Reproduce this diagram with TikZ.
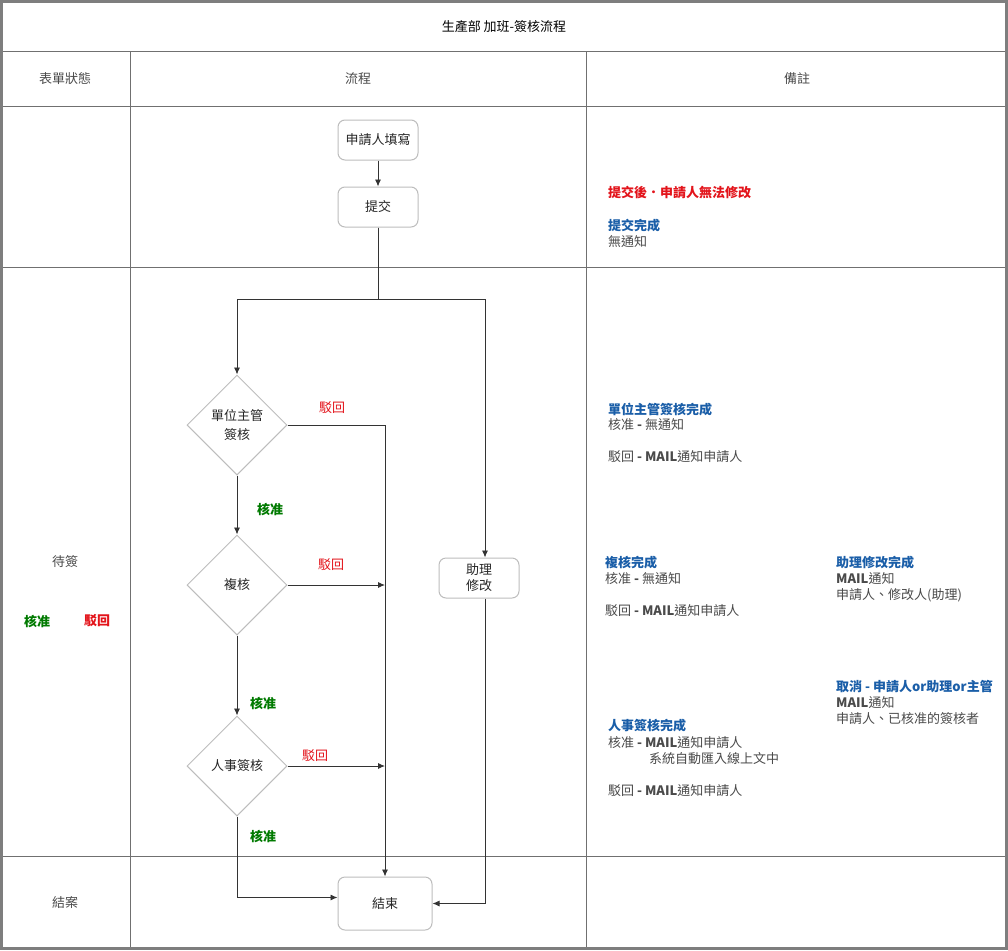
\documentclass[tikz,border=0pt]{standalone}
\usepackage{fontspec}
\setmainfont{Noto Sans CJK TC}
\usetikzlibrary{arrows.meta,shapes.geometric}
\definecolor{rejred}{HTML}{E3141B}
\definecolor{okgreen}{HTML}{007A00}
\definecolor{noteblue}{HTML}{1A5EA8}
\definecolor{txtgrey}{HTML}{4A4A4A}
\definecolor{tblgrey}{HTML}{707070}
\definecolor{shapegrey}{HTML}{BDBDBD}
\definecolor{conngrey}{HTML}{333333}
\tikzset{
  cell/.style={font=\fontsize{13}{16}\selectfont, text=txtgrey},
  ttl/.style={font=\fontsize{13}{16}\selectfont, text=black},
  procbox/.style={draw=shapegrey, line width=1pt, rounded corners=7pt, minimum width=80pt, minimum height=40pt, inner sep=2pt, align=center, font=\fontsize{13}{16}\selectfont, text=black!85},
  decide/.style={draw=shapegrey, line width=1pt, diamond, minimum width=100pt, minimum height=100pt, inner sep=0pt, align=center, font=\fontsize{13}{19}\selectfont, text=black!85},
  flow/.style={draw=conngrey, line width=0.9pt},
  conn/.style={flow, -{Latex[length=7pt,width=6pt]}},
  rejlbl/.style={font=\fontsize{13}{16}\selectfont, text=rejred},
  oklbl/.style={font=\bfseries\fontsize{13}{16}\selectfont, text=okgreen},
  note/.style={anchor=west, inner sep=0pt, font=\fontsize{13}{16}\selectfont, text=txtgrey},
  notehead/.style={anchor=west, inner sep=0pt, font=\bfseries\fontsize{13}{16}\selectfont, text=noteblue},
  notered/.style={anchor=west, inner sep=0pt, font=\bfseries\fontsize{13}{16}\selectfont, text=rejred},
  grid/.style={draw=tblgrey, line width=1pt}
}
\begin{document}
\begin{tikzpicture}[x=1pt,y=-1pt]
\useasboundingbox (0,0) rectangle (1008,950);
\fill[white] (0,0) rectangle (1008,950);
% table
\draw[grid] (0,52) -- (1008,52);
\draw[grid] (0,106) -- (1008,106);
\draw[grid] (0,267) -- (1008,267);
\draw[grid] (0,856) -- (1008,856);
\draw[grid] (130,52) -- (130,950);
\draw[grid] (586,52) -- (586,950);
\draw[draw=tblgrey!90, line width=3pt] (1.5,1.5) rectangle (1006.5,948.5);
% headers
\node[ttl] (title) at (504,27) {生產部 加班-簽核流程};
\node[cell] (hstate) at (65,79) {表單狀態};
\node[cell] (hflow) at (358,79) {流程};
\node[cell] (hnote) at (797,79) {備註};
\node[cell] (wait) at (65,562) {待簽};
\node[oklbl] (lok) at (37,621) {核准};
\node[rejlbl, font=\bfseries\fontsize{13}{16}\selectfont] (lrej) at (97,621) {駁回};
\node[cell] (closed) at (65,903) {結案};
% flow nodes
\node[procbox] (fill) at (378,140) {申請人填寫};
\node[procbox] (submit) at (378,207) {提交};
\node[decide] (d1) at (237,425) {單位主管\\簽核};
\node[decide] (d2) at (237,585) {複核};
\node[decide] (d3) at (237,766) {人事簽核};
\node[procbox] (assist) at (479,578) {助理\\修改};
\node[procbox, minimum width=94pt, minimum height=53pt] (end) at (385,903.5) {結束};
\coordinate (jl) at (237,299);
\coordinate (jr) at (485,299);
% connectors
\draw[conn] (fill) -- (submit);
\draw[conn] (submit.south) |- (jl) -- (d1.north);
\draw[conn] (submit.south) |- (jr) -- (jr |- assist.north);
\draw[conn] (d1.east) -| (end.north);
\draw[conn] (d1.south) -- (d2.north);
\draw[conn] (d2.east) -- (d2.east -| end.north);
\draw[conn] (d2.south) -- (d3.north);
\draw[conn] (d3.east) -- (d3.east -| end.north);
\draw[conn] (d3.south) |- ([yshift=6pt]end.west);
\draw[conn] (jr |- assist.south) |- (end.east);
% labels
\node[rejlbl] (r1) at (332,408) {駁回};
\node[rejlbl] (r2) at (331,565) {駁回};
\node[rejlbl] (r3) at (315,756) {駁回};
\node[oklbl] (k1) at (270,509) {核准};
\node[oklbl] (k2) at (263,703) {核准};
\node[oklbl] (k3) at (263,836) {核准};
% notes
\node[notered] (n0) at (608,192) {提交後．申請人無法修改};
\node[notehead] (n1) at (608,226) {提交完成};
\node[note] (n2) at (608,242) {無通知};
\node[notehead] (n3) at (608,410) {單位主管簽核完成};
\node[note] (n4) at (608,425) {核准 \textbf{-} 無通知};
\node[note] (n5) at (608,457) {駁回 \textbf{- MAIL}通知申請人};
\node[notehead] (n6) at (605,563) {複核完成};
\node[note] (n7) at (605,579) {核准 \textbf{-} 無通知};
\node[note] (n8) at (605,611) {駁回 \textbf{- MAIL}通知申請人};
\node[notehead] (n9) at (836,563) {助理修改完成};
\node[note] (n10) at (836,579) {\textbf{MAIL}通知};
\node[note] (n11) at (836,595) {申請人、修改人(助理)};
\node[notehead] (n12) at (836,687) {取消 - 申請人or助理or主管};
\node[note] (n13) at (836,703) {\textbf{MAIL}通知};
\node[note] (n14) at (836,719) {申請人、已核准的簽核者};
\node[notehead] (n15) at (608,726) {人事簽核完成};
\node[note] (n16) at (608,743) {核准 \textbf{- MAIL}通知申請人};
\node[note] (n17) at (649,759) {系統自動匯入線上文中};
\node[note] (n18) at (608,791) {駁回 \textbf{- MAIL}通知申請人};
\end{tikzpicture}
\end{document}
